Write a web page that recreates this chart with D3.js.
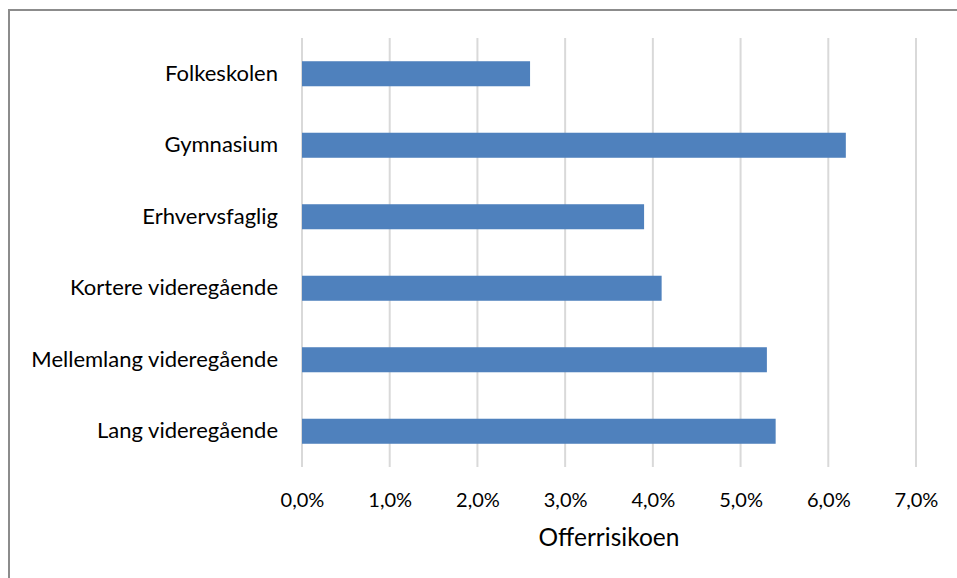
<!DOCTYPE html>
<html>
<head>
<meta charset="utf-8">
<script src="https://cdn.jsdelivr.net/npm/d3@7"></script>
<style>
  html, body { margin: 0; padding: 0; background: #fff; overflow: hidden; }
  svg { display: block; }
</style>
</head>
<body>
<svg id="chart" width="957" height="578"></svg>
<script>
// Offerrisiko by education level
const categories = [
  "Folkeskolen",
  "Gymnasium",
  "Erhvervsfaglig",
  "Kortere videregående",
  "Mellemlang videregående",
  "Lang videregående"
];
const values = [0.026, 0.062, 0.039, 0.041, 0.053, 0.054];
const tickValues = [0, 0.01, 0.02, 0.03, 0.04, 0.05, 0.06, 0.07];
const axisTitle = "Offerrisikoen";

const svg = d3.select("#chart");
const font = "Lato, 'Open Sans', sans-serif";

// chart frame (open to the right and bottom)
svg.append("path")
  .attr("d", "M9,578V10H957")
  .attr("fill", "none")
  .attr("stroke", "#8c8c8c")
  .attr("stroke-width", 2);

const plot = { left: 302, right: 916, top: 38, bottom: 467 };

const x = d3.scaleLinear()
  .domain([0, 0.07])
  .range([plot.left, plot.right]);

const y = d3.scaleBand()
  .domain(categories)
  .range([plot.top, plot.bottom])
  .paddingInner(0.65)
  .paddingOuter(0.325);

// vertical gridlines
svg.append("g")
  .selectAll("line")
  .data(tickValues)
  .join("line")
  .attr("x1", d => x(d)).attr("x2", d => x(d))
  .attr("y1", plot.top).attr("y2", plot.bottom)
  .attr("stroke", "#d9d9d9")
  .attr("stroke-width", 2);

// bars
svg.append("g")
  .selectAll("rect")
  .data(categories)
  .join("rect")
  .attr("x", x(0))
  .attr("y", d => y(d))
  .attr("width", (d, i) => x(values[i]) - x(0))
  .attr("height", y.bandwidth())
  .attr("fill", "#4f81bd");

// x axis tick labels
const fmt = d => (d * 100).toFixed(1).replace(".", ",") + "%";
const xAxis = d3.axisBottom(x)
  .tickValues(tickValues)
  .tickFormat(fmt)
  .tickSize(0)
  .tickPadding(0);
const gx = svg.append("g")
  .attr("transform", `translate(0, ${plot.bottom + 33})`)
  .call(xAxis);
gx.select(".domain").remove();
gx.selectAll("text")
  .attr("font-family", font)
  .attr("font-size", 20)
  .attr("fill", "#000")
  .attr("dy", "0.35em");

// category labels
const yAxis = d3.axisLeft(y).tickSize(0).tickPadding(24);
const gy = svg.append("g")
  .attr("transform", `translate(${plot.left}, 0)`)
  .call(yAxis);
gy.select(".domain").remove();
gy.selectAll("text")
  .attr("font-family", font)
  .attr("font-size", 22)
  .attr("fill", "#000");

// axis title
svg.append("text")
  .attr("x", (x(0) + x(0.07)) / 2)
  .attr("y", 546)
  .attr("text-anchor", "middle")
  .attr("font-family", font)
  .attr("font-size", 24.5)
  .attr("fill", "#000")
  .text(axisTitle);
</script>
</body>
</html>
